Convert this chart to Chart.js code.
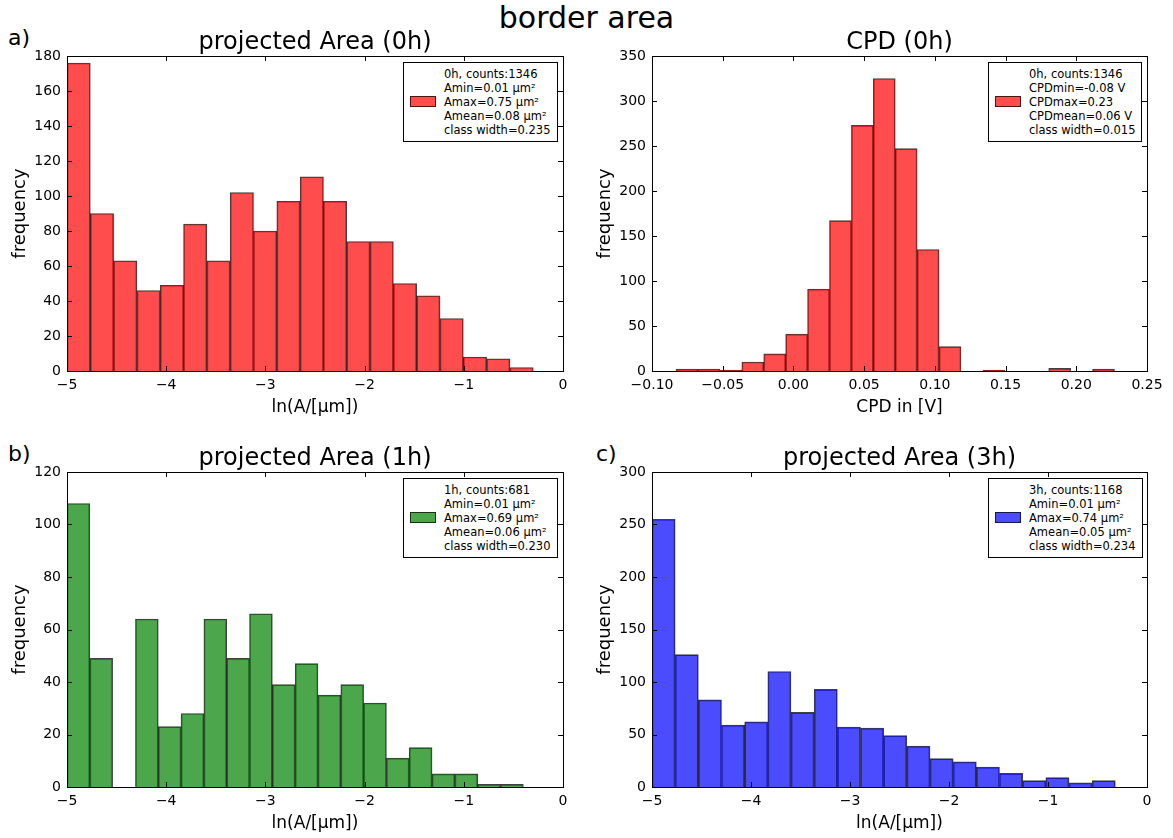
<!DOCTYPE html>
<html>
<head>
<meta charset="utf-8">
<script src="https://cdn.jsdelivr.net/npm/chart.js@4"></script>
<style>
  body { margin: 0; background: #fff; font-family: "DejaVu Sans", sans-serif; }
  #wrap { position: relative; width: 1173px; height: 838px; overflow: hidden; }
  canvas { position: absolute; }
  .txt { position: absolute; color: #000; white-space: nowrap; }
  .ptitle { position: absolute; width: 400px; text-align: center; font-size: 24px; white-space: nowrap; }
  .legend { position: absolute; border: 1px solid #000; background: #fff; box-sizing: border-box;
            font-size: 11.5px; line-height: 14px; padding: 4px 0 4px 40px; white-space: nowrap; }
  .legend .sw { position: absolute; left: 6px; top: 33px; width: 24px; height: 9px; border: 1px solid rgba(0,0,0,0.7); }
</style>
</head>
<body>
<div id="wrap">
  <div class="txt" style="left:0;width:1173px;text-align:center;top:0;font-size:30px;">border area</div>
  <div class="txt" style="left:8px;top:25px;font-size:22px;">a)</div>
  <div class="txt" style="left:8px;top:441px;font-size:22px;">b)</div>
  <div class="txt" style="left:596px;top:441px;font-size:22px;">c)</div>

  <canvas id="c0" width="580" height="400" style="left:0;top:22px;"></canvas>
  <canvas id="c1" width="588" height="400" style="left:585px;top:22px;"></canvas>
  <canvas id="c2" width="580" height="400" style="left:0;top:438px;"></canvas>
  <canvas id="c3" width="588" height="400" style="left:585px;top:438px;"></canvas>
</div>
<script>
// bin centers and counts
const area0hBins = [-4.8825,-4.6475,-4.4125,-4.1775,-3.9425,-3.7075,-3.4725,-3.2375,-3.0025,-2.7675,
                    -2.5325,-2.2975,-2.0625,-1.8275,-1.5925,-1.3575,-1.1225,-0.8875,-0.6525,-0.4175];
const area0hCounts = [176,90,63,46,49,84,63,102,80,97,111,97,74,74,50,43,30,8,7,2];

const cpd0hBins = [-0.07525,-0.05975,-0.04425,-0.02875,-0.01325,0.00225,0.01775,0.03325,0.04875,0.06425,
                   0.07975,0.09525,0.11075,0.12625,0.14175,0.15725,0.17275,0.18825,0.20375,0.21925];
const cpd0hCounts = [2,2,1,10,19,41,91,167,273,325,247,135,27,0,1,0,0,3,0,2];

const area1hBins = [-4.885,-4.655,-4.425,-4.195,-3.965,-3.735,-3.505,-3.275,-3.045,-2.815,
                    -2.585,-2.355,-2.125,-1.895,-1.665,-1.435,-1.205,-0.975,-0.745,-0.515];
const area1hCounts = [108,49,0,64,23,28,64,49,66,39,47,35,39,32,11,15,5,5,1,1];

const area3hBins = [-4.883,-4.649,-4.415,-4.181,-3.947,-3.713,-3.479,-3.245,-3.011,-2.777,
                    -2.543,-2.309,-2.075,-1.841,-1.607,-1.373,-1.139,-0.905,-0.671,-0.437];
const area3hCounts = [255,126,83,59,62,110,71,93,57,56,49,39,27,24,19,13,6,9,4,6];

const panelTitles = ["projected Area (0h)", "CPD (0h)", "projected Area (1h)", "projected Area (3h)"];

const legend0h = ["0h, counts:1346","Amin=0.01 μm²","Amax=0.75 μm²","Amean=0.08 μm²","class width=0.235"];
const legendCpd = ["0h, counts:1346","CPDmin=-0.08 V","CPDmax=0.23","CPDmean=0.06 V","class width=0.015"];
const legend1h = ["1h, counts:681","Amin=0.01 μm²","Amax=0.69 μm²","Amean=0.06 μm²","class width=0.230"];
const legend3h = ["3h, counts:1168","Amin=0.01 μm²","Amax=0.74 μm²","Amean=0.05 μm²","class width=0.234"];

const FONT = "DejaVu Sans";
Chart.defaults.font.family = FONT;
Chart.defaults.color = "#000";

// matplotlib-style frame with inward ticks on all four sides
const frameTicks = {
  id: "frameTicks",
  afterDraw(chart) {
    const ctx = chart.ctx, a = chart.chartArea;
    const xs = chart.scales.x, ys = chart.scales.y;
    ctx.save();
    ctx.strokeStyle = "#000";
    ctx.lineWidth = 1;
    ctx.beginPath();
    xs.ticks.forEach(t => {
      const px = Math.round(xs.getPixelForValue(t.value)) + 0.5;
      ctx.moveTo(px, a.bottom); ctx.lineTo(px, a.bottom - 5);
      ctx.moveTo(px, a.top); ctx.lineTo(px, a.top + 5);
    });
    ys.ticks.forEach(t => {
      const py = Math.round(ys.getPixelForValue(t.value)) + 0.5;
      ctx.moveTo(a.left, py); ctx.lineTo(a.left + 5, py);
      ctx.moveTo(a.right, py); ctx.lineTo(a.right - 5, py);
    });
    ctx.stroke();
    ctx.strokeRect(Math.round(a.left) + 0.5, Math.round(a.top) + 0.5,
                   Math.round(a.right - a.left), Math.round(a.bottom - a.top));
    ctx.restore();
  }
};

function minusFmt(v, dec) {
  const s = dec ? Number(v).toFixed(dec) : String(Math.round(v));
  return s.replace("-", "\u2212");
}

function makeHist(id, opts) {
  const canvas = document.getElementById(id);
  const chart = new Chart(canvas, {
    type: "bar",
    data: {
      datasets: [{
        data: opts.bins.map((b, i) => ({ x: b, y: opts.counts[i] })),
        backgroundColor: opts.color,
        borderColor: "rgba(0,0,0,0.75)",
        borderWidth: 1,
        borderSkipped: "start",
        barPercentage: 1,
        categoryPercentage: 1
      }]
    },
    options: {
      responsive: false,
      animation: false,
      layout: { padding: { left: 10, right: opts.padRight, top: 34, bottom: 0 } },
      plugins: {
        legend: { display: false },
        tooltip: { enabled: false },
        title: { display: false }
      },
      scales: {
        x: {
          type: "linear",
          offset: false,
          min: opts.xMin, max: opts.xMax,
          grid: { display: false, drawTicks: false },
          border: { display: false },
          afterFit: s => { s.height = 51; },
          afterBuildTicks: s => {
            s.ticks = opts.xTicks.map(v => ({ value: v }));
          },
          ticks: {
            font: { size: 14 },
            padding: 6,
            maxRotation: 0,
            autoSkip: false,
            callback: v => minusFmt(v, opts.xDec)
          },
          title: {
            display: true,
            text: opts.xTitle,
            font: { size: 17 },
            padding: { top: 0, bottom: 4 }
          }
        },
        y: {
          min: 0, max: opts.yMax,
          grid: { display: false, drawTicks: false },
          border: { display: false },
          afterFit: s => { s.width = 57; },
          ticks: { stepSize: opts.yStep, font: { size: 14 }, padding: 6 },
          title: {
            display: true,
            text: "frequency",
            font: { size: 18 },
            padding: { top: 0, bottom: 0 }
          }
        }
      }
    },
    plugins: [frameTicks]
  });
  // subplot title centred over the plot area
  const a = chart.chartArea;
  const t = document.createElement("div");
  t.className = "ptitle";
  t.textContent = opts.title;
  t.style.left = (canvas.offsetLeft + (a.left + a.right) / 2 - 200) + "px";
  t.style.top = (canvas.offsetTop + 5) + "px";
  document.getElementById("wrap").appendChild(t);
  return chart;
}

function addLegend(left, top, width, lines, color) {
  const box = document.createElement("div");
  box.className = "legend";
  box.style.left = left + "px";
  box.style.top = top + "px";
  box.style.width = width + "px";
  const sw = document.createElement("div");
  sw.className = "sw";
  sw.style.background = color;
  box.appendChild(sw);
  lines.forEach(l => {
    const d = document.createElement("div");
    d.textContent = l;
    box.appendChild(d);
  });
  document.getElementById("wrap").appendChild(box);
}

const RED = "rgba(255,0,0,0.7)";
const GREEN = "rgba(0,128,0,0.7)";
const BLUE = "rgba(0,0,255,0.7)";
const areaTicks = [-5, -4, -3, -2, -1, 0];
const cpdTicks = [-0.10, -0.05, 0.00, 0.05, 0.10, 0.15, 0.20, 0.25];

makeHist("c0", { bins: area0hBins, counts: area0hCounts, color: RED, title: panelTitles[0],
  xMin: -5, xMax: 0, xTicks: areaTicks, xDec: 0, xTitle: "ln(A/[μm])", yMax: 180, yStep: 20, padRight: 17 });
makeHist("c1", { bins: cpd0hBins, counts: cpd0hCounts, color: RED, title: panelTitles[1],
  xMin: -0.10, xMax: 0.25, xTicks: cpdTicks, xDec: 2, xTitle: "CPD in [V]", yMax: 350, yStep: 50, padRight: 26 });
makeHist("c2", { bins: area1hBins, counts: area1hCounts, color: GREEN, title: panelTitles[2],
  xMin: -5, xMax: 0, xTicks: areaTicks, xDec: 0, xTitle: "ln(A/[μm])", yMax: 120, yStep: 20, padRight: 17 });
makeHist("c3", { bins: area3hBins, counts: area3hCounts, color: BLUE, title: panelTitles[3],
  xMin: -5, xMax: 0, xTicks: areaTicks, xDec: 0, xTitle: "ln(A/[μm])", yMax: 300, yStep: 50, padRight: 26 });

addLegend(403, 62, 155, legend0h, RED);
addLegend(988, 62, 154, legendCpd, RED);
addLegend(403, 478, 155, legend1h, GREEN);
addLegend(988, 478, 155, legend3h, BLUE);
</script>
</body>
</html>
